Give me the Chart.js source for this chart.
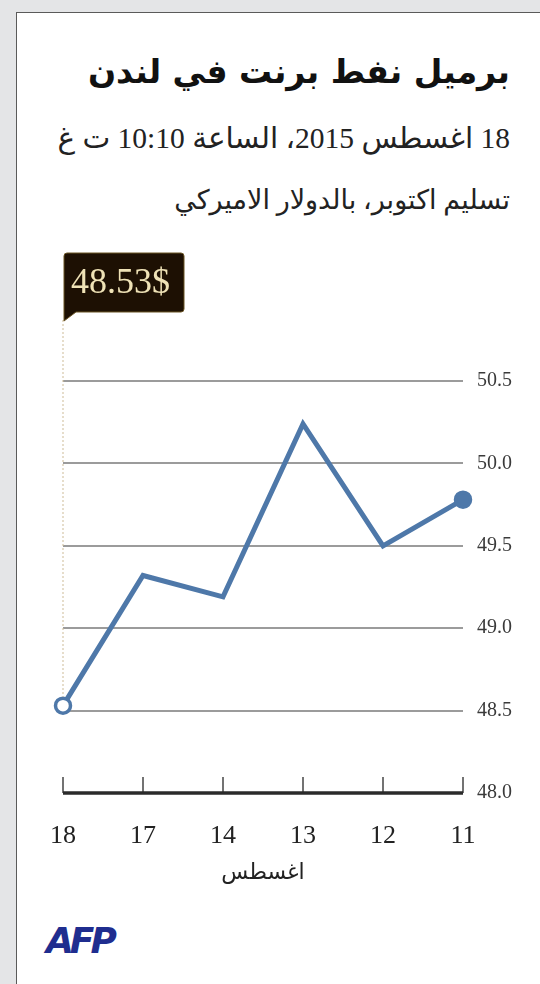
<!DOCTYPE html>
<html lang="ar">
<head>
<meta charset="utf-8">
<script src="https://cdn.jsdelivr.net/npm/chart.js@4/dist/chart.umd.min.js"></script>
<style>
  html, body { margin:0; padding:0; width:540px; height:984px; overflow:hidden; background:#e4e5e7; }
  #panel { position:absolute; left:16px; top:12px; width:540px; height:990px; background:#fff; border:1.5px solid #5a5a5a; box-sizing:border-box; }
  .t { position:absolute; right:30px; direction:rtl; text-align:right; white-space:nowrap; color:#111; }
  #title { top:52px; font:bold 33px "DejaVu Sans", sans-serif; }
  #sub1 { top:121px; font:29.5px "Liberation Serif", "DejaVu Sans", serif; color:#222; }
  #sub2 { top:184px; font:27px "Liberation Serif", "DejaVu Sans", serif; color:#222; }
  #afp { position:absolute; left:46px; top:920px; font:italic 900 36px "DejaVu Sans", sans-serif; color:#1f2d8f; letter-spacing:-4px; }
  canvas { position:absolute; left:0; top:0; }
</style>
</head>
<body>
<div id="panel"></div>
<div class="t" id="title">برميل نفط برنت في لندن</div>
<div class="t" id="sub1">18 اغسطس 2015، الساعة 10:10 ت غ</div>
<div class="t" id="sub2">تسليم اكتوبر، بالدولار الاميركي</div>
<div id="afp">AFP</div>
<canvas id="c" width="540" height="900"></canvas>
<script>
// Data (chronological; x axis drawn reversed, right-to-left)
const days = ['11', '12', '13', '14', '17', '18'];
const prices = [49.78, 49.50, 50.24, 49.19, 49.32, 48.53];
const yTicks = [48.0, 48.5, 49.0, 49.5, 50.0, 50.5];
const axisTitle = 'اغسطس';
const calloutText = '48.53$';

const lineColor = '#4e78a9';

const extras = {
  id: 'extras',
  afterDatasetsDraw(chart) {
    const ctx = chart.ctx, x = chart.scales.x, y = chart.scales.y, a = chart.chartArea;
    // axis tick marks pointing up
    ctx.save();
    ctx.strokeStyle = '#444'; ctx.lineWidth = 1.5;
    days.forEach((d, i) => {
      const px = x.getPixelForValue(i);
      ctx.beginPath(); ctx.moveTo(px, a.bottom); ctx.lineTo(px, a.bottom - 16); ctx.stroke();
    });
    // baseline
    ctx.strokeStyle = '#2a2a2a'; ctx.lineWidth = 3.5;
    ctx.beginPath(); ctx.moveTo(a.left, a.bottom); ctx.lineTo(a.right, a.bottom); ctx.stroke();
    // callout for last value
    const li = days.length - 1;
    const px = x.getPixelForValue(li), py = y.getPixelForValue(prices[li]);
    const bx = px + 1, by = a.top - 128, bw = 120, bh = 59;
    ctx.strokeStyle = '#cdbb98'; ctx.lineWidth = 1; ctx.setLineDash([2, 2]);
    ctx.beginPath(); ctx.moveTo(px, by + bh + 8); ctx.lineTo(px, py - 9); ctx.stroke();
    ctx.setLineDash([]);
    ctx.fillStyle = '#1d1003';
    ctx.beginPath();
    ctx.moveTo(bx + 3, by); ctx.lineTo(bx + bw - 3, by); ctx.quadraticCurveTo(bx + bw, by, bx + bw, by + 3);
    ctx.lineTo(bx + bw, by + bh - 3); ctx.quadraticCurveTo(bx + bw, by + bh, bx + bw - 3, by + bh);
    ctx.lineTo(bx + 12, by + bh); ctx.lineTo(bx, by + bh + 9); ctx.lineTo(bx, by + 3);
    ctx.quadraticCurveTo(bx, by, bx + 3, by);
    ctx.closePath(); ctx.fill();
    ctx.strokeStyle = '#6b5525'; ctx.lineWidth = 1; ctx.stroke();
    ctx.fillStyle = '#efe2b6';
    ctx.font = '36px "Liberation Serif", serif';
    ctx.textBaseline = 'middle'; ctx.textAlign = 'left';
    ctx.fillText(calloutText, bx + 7, by + bh / 2 + 1);
    ctx.restore();
  }
};

new Chart(document.getElementById('c'), {
  type: 'line',
  data: {
    labels: days,
    datasets: [{
      data: prices,
      borderColor: lineColor,
      borderWidth: 5,
      tension: 0,
      clip: false,
      pointRadius: prices.map((v, i) => (i === 0 || i === prices.length - 1) ? 7.5 : 0),
      pointBackgroundColor: prices.map((v, i) => i === prices.length - 1 ? '#ffffff' : lineColor),
      pointBorderColor: lineColor,
      pointBorderWidth: 3.5,
      pointHoverRadius: 0
    }]
  },
  options: {
    responsive: false,
    animation: false,
    events: [],
    layout: { padding: { left: 63, top: 381, right: 0, bottom: 0 } },
    plugins: { legend: { display: false }, tooltip: { enabled: false } },
    scales: {
      x: {
        reverse: true,
        offset: false,
        grid: { display: false },
        border: { display: false },
        ticks: { color: '#222', font: { family: '"Liberation Serif", serif', size: 26 }, padding: 20, maxRotation: 0 },
        title: { display: true, text: axisTitle, color: '#222', font: { family: '"DejaVu Sans", sans-serif', size: 22 }, padding: { top: 4, bottom: 14 } },
        afterFit(s) { s.height = 900 - 793; }
      },
      y: {
        position: 'right',
        min: 48.0, max: 50.5,
        afterBuildTicks(s) { s.ticks = yTicks.map(v => ({ value: v })); },
        grid: { color: ctx => ctx.tick && ctx.tick.value === 48 ? 'rgba(0,0,0,0)' : '#9b9b9b', lineWidth: 2, drawTicks: false },
        border: { display: false },
        ticks: { color: '#3a3a3a', font: { family: '"Liberation Serif", serif', size: 20 }, padding: 14, callback: v => Number(v).toFixed(1) },
        afterFit(s) { s.width = 540 - 463; }
      }
    }
  },
  plugins: [extras]
});
</script>
</body>
</html>
